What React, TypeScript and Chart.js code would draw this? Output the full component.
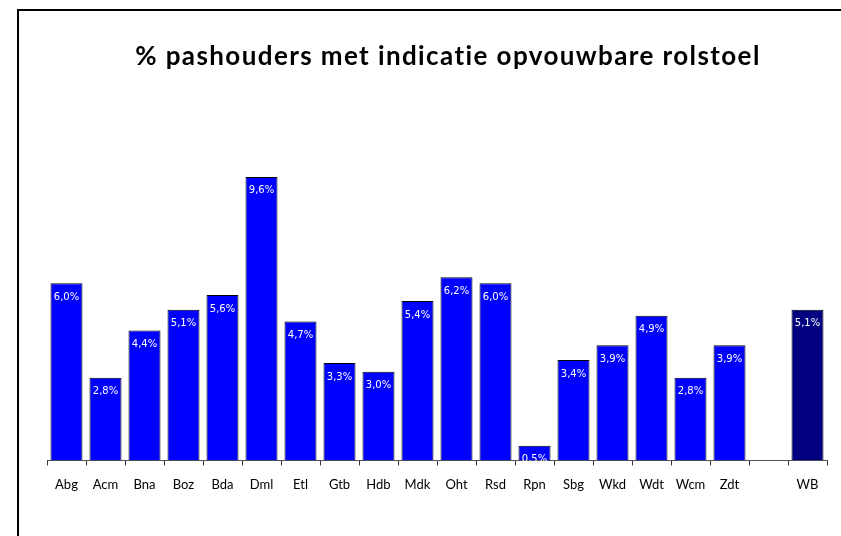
import React, { useEffect, useRef } from "react";
import { Chart, registerables } from "chart.js";

Chart.register(...registerables);

const categories = ["Abg", "Acm", "Bna", "Boz", "Bda", "Dml", "Etl", "Gtb", "Hdb", "Mdk", "Oht", "Rsd", "Rpn", "Sbg", "Wkd", "Wdt", "Wcm", "Zdt", "", "WB"];
const values: (number | null)[] = [6.0, 2.8, 4.4, 5.1, 5.6, 9.6, 4.7, 3.3, 3.0, 5.4, 6.2, 6.0, 0.5, 3.4, 3.9, 4.9, 2.8, 3.9, null, 5.1];
const barColors = ["#0000FF", "#0000FF", "#0000FF", "#0000FF", "#0000FF", "#0000FF", "#0000FF", "#0000FF", "#0000FF", "#0000FF", "#0000FF", "#0000FF", "#0000FF", "#0000FF", "#0000FF", "#0000FF", "#0000FF", "#0000FF", "#0000FF", "#000080"];
const title = "% pashouders met indicatie opvouwbare rolstoel";

const valueLabels = {
  id: "valueLabels",
  afterDatasetsDraw(chart: any) {
    const ctx = chart.ctx;
    const meta = chart.getDatasetMeta(0);
    ctx.save();
    ctx.font = "10px 'DejaVu Sans'";
    ctx.fillStyle = "#ffffff";
    ctx.textAlign = "center";
    ctx.textBaseline = "middle";
    meta.data.forEach((bar: any, i: number) => {
      const v = values[i];
      if (v === null || v === undefined) return;
      ctx.fillText(v.toFixed(1).replace(".", ",") + "%", bar.x, bar.y + 14);
    });
    ctx.restore();
  },
};

const titlePlugin = {
  id: "spacedTitle",
  afterDraw(chart: any) {
    const ctx = chart.ctx;
    ctx.save();
    ctx.font = "bold 26px Lato";
    (ctx as any).letterSpacing = "1.4px";
    ctx.fillStyle = "#000000";
    ctx.textAlign = "center";
    ctx.textBaseline = "alphabetic";
    ctx.fillText(title, 448, 65);
    ctx.restore();
  },
};

export default function App() {
  const ref = useRef<HTMLCanvasElement>(null);
  useEffect(() => {
    if (!ref.current) return;
    const chart = new Chart(ref.current, {
      type: "bar",
      data: {
        labels: categories,
        datasets: [
          {
            data: values,
            backgroundColor: barColors,
            borderColor: "#000000",
            borderWidth: 1,
            barPercentage: 0.82,
            categoryPercentage: 1,
          },
        ],
      },
      options: {
        animation: false,
        responsive: false,
        maintainAspectRatio: false,
        layout: { padding: { left: 47, right: 14, top: 106, bottom: 31 } },
        plugins: {
          legend: { display: false },
          tooltip: { enabled: false },
          title: { display: false },
        },
        scales: {
          x: {
            grid: { display: true, drawOnChartArea: false, tickLength: 5, color: "#333333", offset: true },
            border: { display: true, color: "#555555", width: 1 },
            ticks: { color: "#000000", font: { family: "Lato", size: 13 }, padding: 12, maxRotation: 0, autoSkip: false },
          },
          y: { display: false, min: 0, max: 12 },
        },
      },
      plugins: [valueLabels, titlePlugin],
    });
    return () => chart.destroy();
  }, []);
  return (
    <div style={{ position: "absolute", left: 0, top: 0, width: 841, height: 536, overflow: "hidden", background: "#fff" }}>
      <div style={{ position: "absolute", left: 17, top: 9, width: 900, height: 600, border: "2px solid #000" }} />
      <canvas ref={ref} width={841} height={536} style={{ position: "absolute", left: 0, top: 0 }} />
    </div>
  );
}
